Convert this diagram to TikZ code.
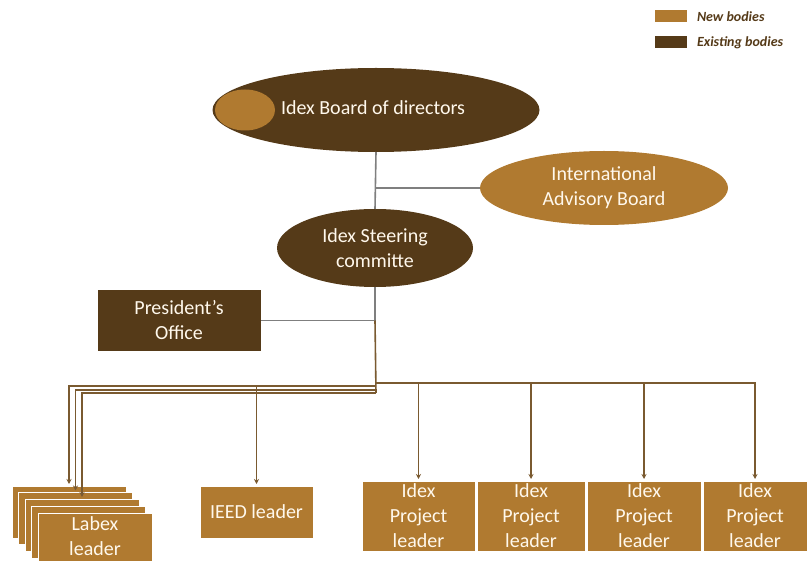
\documentclass[tikz,border=0pt]{standalone}
\usepackage{fontspec}
\setmainfont{Carlito}
\usetikzlibrary{shapes.geometric,arrows.meta}
\definecolor{newbody}{HTML}{B07A30}
\definecolor{oldbody}{HTML}{553A18}
\definecolor{linkgray}{HTML}{7F7F7F}
\definecolor{linkbrown}{HTML}{7A5A30}
\definecolor{labeltext}{HTML}{FFF8EC}
\begin{document}
\begin{tikzpicture}[x=1pt,y=-1pt,
  every node/.style={inner sep=0pt, outer sep=0pt, text=labeltext,
    font=\fontsize{20}{25}\selectfont, align=center},
  oval/.style={ellipse, draw=none},
  newoval/.style={oval, fill=newbody},
  oldoval/.style={oval, fill=oldbody},
  newbox/.style={rectangle, fill=newbody, draw=white, line width=0.7pt},
  oldbox/.style={rectangle, fill=oldbody, draw=white, line width=0.7pt},
  labexbox/.style={newbox, minimum width=114pt, minimum height=52pt},
  projbox/.style={newbox, minimum height=70pt},
  graylink/.style={draw=linkgray, line width=1.6pt},
  buslink/.style={draw=linkbrown, line width=1.6pt},
  arr/.style={-{Stealth[length=5pt,width=5pt]}, shorten >=2pt},
  legendtext/.style={text=oldbody, anchor=west,
    font=\fontsize{14}{16}\selectfont\bfseries\itshape}
]
\useasboundingbox (0,0) rectangle (809,561);

% legend
\node[newbox, minimum width=33pt, minimum height=13pt] (legnew) at (671,16) {};
\node[legendtext] (legnewtext) at (697,17) {New bodies};
\node[oldbox, minimum width=33pt, minimum height=13pt] (legold) at (671,41.5) {};
\node[legendtext] (legoldtext) at (697,43) {Existing bodies};

% governing bodies
\node[oldoval, minimum width=327pt, minimum height=84pt] (board) at (376,110) {};
\node[newoval, minimum width=60pt, minimum height=41pt] (boardmark) at (245,110) {};
\node (boardtext) at (373,108) {Idex Board of directors};
\node[newoval, minimum width=248pt, minimum height=74pt] (iab) at (604,188)
  {International\\Advisory Board};
\node[oldoval, minimum width=196pt, minimum height=78pt] (steer) at (375,248)
  {Idex Steering\\committe};
\node[oldbox, minimum width=164pt, minimum height=62pt] (pres) at (179,320.5)
  {President’s\\Office};

% leaders
\node[labexbox] (L1) at (69,512) {};
\node[labexbox] (L2) at (75.5,518.5) {};
\node[labexbox] (L3) at (82,525) {};
\node[labexbox] (L4) at (88.5,532) {};
\node[labexbox] (L5) at (95,539) {};
\node (labextext) at (95,536) {Labex\\leader};
\node[newbox, minimum width=113pt, minimum height=52pt] (ieed) at (256.5,512) {IEED leader};
\node[projbox, minimum width=113pt] (p1) at (418.5,516) {Idex\\Project\\leader};
\node[projbox, minimum width=108pt] (p2) at (531,516) {Idex\\Project\\leader};
\node[projbox, minimum width=114pt] (p3) at (644,516) {Idex\\Project\\leader};
\node[projbox, minimum width=104pt] (p4) at (755,516) {Idex\\Project\\leader};

% connectors
\coordinate (trunk) at (steer.south |- pres.east);
\coordinate (busR) at (376,383);
\coordinate (busA) at (376,386);
\coordinate (busB) at (376,390);
\coordinate (busC) at (376,393);

\draw[graylink] (board.south) -- (steer.north);
\draw[graylink] (board.south |- iab.west) -- (iab.west);
\draw[graylink] (steer.south) -- (trunk) -- (pres.east);
\draw[buslink] (trunk) -- (busC);

\draw[buslink,arr] (busR) -| (p4.north);
\foreach \p in {p1,p2,p3}
  \draw[buslink,arr] (busR -| \p.north) -- (\p.north);

\draw[buslink,arr] (busA) -| (L1.north);
\draw[buslink,arr] (busB) -| (L2.north);
\draw[buslink,arr] (busC) -| (L3.north);
\draw[buslink,arr] (busA -| ieed.north) -- (ieed.north);
\end{tikzpicture}
\end{document}
